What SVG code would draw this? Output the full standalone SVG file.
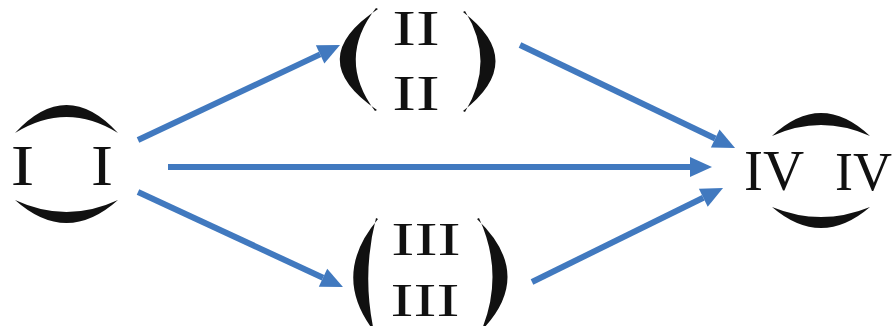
<svg xmlns="http://www.w3.org/2000/svg" width="894" height="326" viewBox="0 0 894 326">
  <style>
    .t { font-family: "Liberation Serif", "Times New Roman", serif; fill: #111; }
    .d { fill: #111; stroke: none; }
    .c { stroke: #4179bf; stroke-width: 6; fill: none; stroke-linecap: butt; }
  </style>
  <defs>
    <marker id="ah" markerUnits="userSpaceOnUse" markerWidth="22" markerHeight="20" refX="0" refY="10" orient="auto" overflow="visible">
      <path d="M0,0 L22,10 L0,20 Z" fill="#4179bf"/>
    </marker>
  </defs>
  <rect width="894" height="326" fill="#fff"/>

  <g id="connectors">
    <line class="c" x1="138" y1="140" x2="320.1" y2="54.4" marker-end="url(#ah)"/>
    <line class="c" x1="168" y1="167" x2="690" y2="167" stroke-width="7" marker-end="url(#ah)"/>
    <line class="c" x1="138" y1="192" x2="323" y2="277.7" stroke-width="5" marker-end="url(#ah)"/>
    <line class="c" x1="520" y1="45" x2="715.2" y2="138.5" stroke-width="7" marker-end="url(#ah)"/>
    <line class="c" x1="532" y1="282" x2="703.3" y2="197.7" stroke-width="7" marker-end="url(#ah)"/>
  </g>

  <g id="node-I">
    <path class="d" d="M15,133 Q66.5,77 118,133 Q66.5,101 15,133 Z"/>
    <path class="d" d="M15,200 Q66.5,246 118,200 Q66.5,224 15,200 Z"/>
    <text class="t" x="22.5" y="185" font-size="56" text-anchor="middle" textLength="23.5" lengthAdjust="spacingAndGlyphs">I</text>
    <text class="t" x="102" y="185" font-size="56" text-anchor="middle" textLength="22" lengthAdjust="spacingAndGlyphs">I</text>
  </g>

  <g id="node-II">
    <path class="d" d="M378,9 Q302,59 377,110 L375,111 Q336,59 376,8 Z"/>
    <path class="d" d="M463,12 Q528,61 463,111 L465,112 Q496,61 465,11 Z"/>
    <text class="t" x="416" y="45" font-size="50" text-anchor="middle" textLength="47.5" lengthAdjust="spacingAndGlyphs">II</text>
    <text class="t" x="416" y="110" font-size="50" text-anchor="middle" textLength="47.5" lengthAdjust="spacingAndGlyphs">II</text>
  </g>

  <g id="node-III">
    <path class="d" d="M378,219 Q329,277 377,335 L375,336 Q361,277 376,218 Z"/>
    <path class="d" d="M477,219 Q538,277 477,335 L479,336 Q506,277 479,218 Z"/>
    <text class="t" x="426" y="255" font-size="46" text-anchor="middle" textLength="69.5" lengthAdjust="spacingAndGlyphs">III</text>
    <text class="t" x="425" y="316" font-size="46" text-anchor="middle" textLength="69" lengthAdjust="spacingAndGlyphs">III</text>
  </g>

  <g id="node-IV">
    <path class="d" d="M772,136 Q821,90 870,136 Q821,114 772,136 Z"/>
    <path class="d" d="M772,207 Q821,249 870,207 Q821,227 772,207 Z"/>
    <text class="t" x="744" y="190" font-size="57">IV</text>
    <text class="t" x="835" y="190" font-size="54">IV</text>
  </g>
</svg>
